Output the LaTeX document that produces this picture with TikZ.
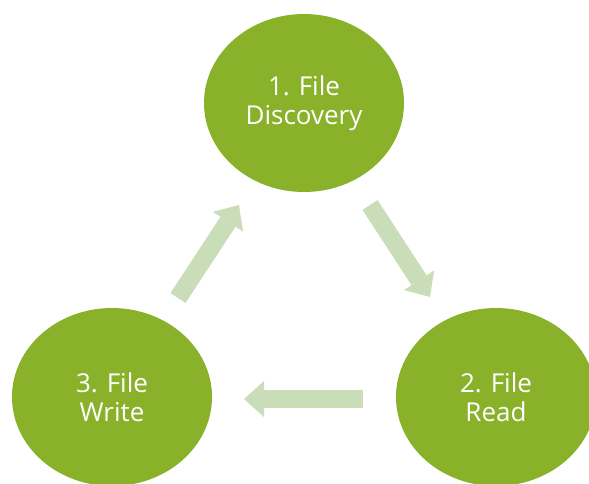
\documentclass[tikz,border=0pt]{standalone}
\usepackage{fontspec}
\setmainfont{Open Sans}
\usetikzlibrary{shapes.geometric, arrows.meta}
\definecolor{leaf}{HTML}{8AB12A}
\definecolor{paleleaf}{HTML}{C9DDB8}
\tikzset{
  stage/.style={ellipse, fill=leaf, text=white, inner sep=0pt,
    minimum width=200pt, minimum height=178pt, align=center,
    font=\fontsize{26}{28.5}\selectfont},
  flow/.style={paleleaf, line width=18pt,
    -{Triangle[width=36pt, length=20pt, line width=0pt]}}
}

\begin{document}
\begin{tikzpicture}[x=1pt, y=-1pt]
	\clip (0,0) rectangle (589,483);
	\node[stage] (discovery) at (304,103) {1. File\\Discovery};
	\node[stage] (read) at (496,397) {2. File\\Read};
	\node[stage] (write) at (112,397) {3. File\\Write};
	% arrows between the stages
	\coordinate (dr tail) at (370,205); \coordinate (dr tip) at (430,297);
	\coordinate (rw tail) at (363,399); \coordinate (rw tip) at (244,399);
	\coordinate (wd tail) at (178,298); \coordinate (wd tip) at (239,205);
	\draw[flow] (dr tail) -- (dr tip);
	\draw[flow] (rw tail) -- (rw tip);
	\draw[flow] (wd tail) -- (wd tip);
\end{tikzpicture}
\end{document}
